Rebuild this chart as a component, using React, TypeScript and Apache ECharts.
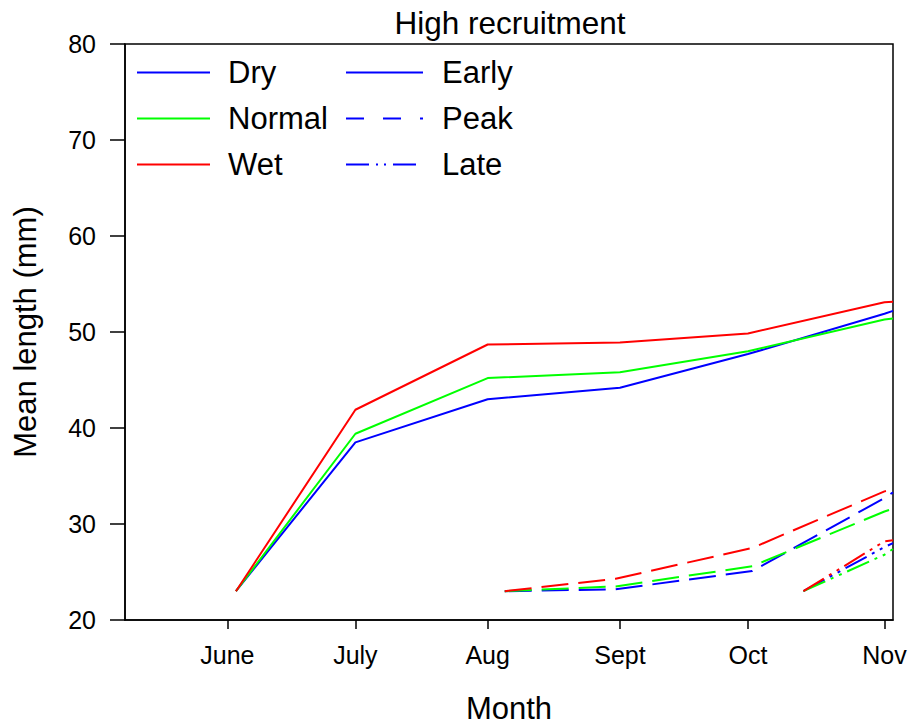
import React, { useEffect, useRef } from "react";
import * as echarts from "echarts";

// Day-of-year positions of the month ticks and their labels
const monthTicks = [152, 182, 213, 244, 274, 306];
const monthLabels = ["June", "July", "Aug", "Sept", "Oct", "Nov"];

// Early recruitment cohort (solid lines)
const earlyDays = [154, 182, 213, 244, 274, 306, 308];
const earlyDry = [23, 38.5, 43.0, 44.2, 47.7, 51.9, 52.2];
const earlyNormal = [23, 39.4, 45.2, 45.8, 48.0, 51.3, 51.4];
const earlyWet = [23, 41.9, 48.7, 48.9, 49.85, 53.1, 53.15];

// Peak recruitment cohort (dashed lines)
const peakDays = [217, 243, 275, 306, 308];
const peakDry = [23, 23.2, 25.1, 32.7, 33.3];
const peakNormal = [23, 23.5, 25.6, 31.3, 31.6];
const peakWet = [23, 24.3, 27.5, 33.4, 33.6];

// Late recruitment cohort (dash-dot-dot lines)
const lateDays = [287, 306, 308];
const lateDry = [23, 27.6, 28.0];
const lateNormal = [23, 26.8, 27.4];
const lateWet = [23, 28.2, 28.3];

const BLUE = "#0000ff";
const GREEN = "#00ff00";
const RED = "#ff0000";
const FONT = "'Liberation Sans', Arial, sans-serif";

const PEAK_DASH = [27, 10];
const LATE_DASH = [24, 6, 3, 6, 3, 6];

const pairs = (xs: number[], ys: number[]) => xs.map((x, i) => [x, ys[i]]);

export default function App() {
  const ref = useRef<HTMLDivElement>(null);

  useEffect(() => {
    if (!ref.current) return;
    const chart = echarts.init(ref.current, undefined, { renderer: "svg" });

    const line = (name: string, color: string, data: number[][], type: any) => ({
      name,
      type: "line",
      data,
      symbol: "none",
      clip: true,
      lineStyle: { color, width: 2, type },
      itemStyle: { color },
      z: 3,
    });

    const series: any[] = [
      // legend-only entries
      line("Dry", BLUE, [], "solid"),
      line("Normal", GREEN, [], "solid"),
      line("Wet", RED, [], "solid"),
      line("Early", BLUE, [], "solid"),
      line("Peak", BLUE, [], PEAK_DASH),
      line("Late", BLUE, [], LATE_DASH),
      // data lines
      line("Dry Early", BLUE, pairs(earlyDays, earlyDry), "solid"),
      line("Normal Early", GREEN, pairs(earlyDays, earlyNormal), "solid"),
      line("Wet Early", RED, pairs(earlyDays, earlyWet), "solid"),
      line("Dry Peak", BLUE, pairs(peakDays, peakDry), PEAK_DASH),
      line("Normal Peak", GREEN, pairs(peakDays, peakNormal), PEAK_DASH),
      line("Wet Peak", RED, pairs(peakDays, peakWet), PEAK_DASH),
      line("Dry Late", BLUE, pairs(lateDays, lateDry), LATE_DASH),
      line("Normal Late", GREEN, pairs(lateDays, lateNormal), LATE_DASH),
      line("Wet Late", RED, pairs(lateDays, lateWet), LATE_DASH),
    ];

    const legendText = {
      fontFamily: FONT,
      fontSize: 31,
      color: "#000",
      lineHeight: 30,
      padding: [0, 0, 0, 13],
    };

    chart.setOption({
      animation: false,
      backgroundColor: "#fff",
      title: {
        text: "High recruitment",
        left: 510,
        textAlign: "center",
        top: 7,
        padding: 0,
        textStyle: { fontFamily: FONT, fontSize: 31.5, fontWeight: "normal", color: "#000" },
      },
      legend: [
        {
          data: ["Dry", "Normal", "Wet"],
          orient: "vertical",
          left: 136,
          top: 57,
          padding: 0,
          itemWidth: 73,
          itemHeight: 30,
          itemGap: 15,
          selectedMode: false,
          itemStyle: { opacity: 0 },
          textStyle: legendText,
        },
        {
          data: [
            "Early",
            { name: "Peak", lineStyle: { type: [18, 19] } },
            { name: "Late", lineStyle: { type: [23, 7, 2, 6, 2, 7] } },
          ],
          orient: "vertical",
          left: 345,
          top: 57,
          padding: 0,
          itemWidth: 77,
          itemHeight: 30,
          itemGap: 15,
          selectedMode: false,
          itemStyle: { opacity: 0 },
          textStyle: { ...legendText, padding: [0, 0, 0, 14] },
        },
      ],
      grid: {
        left: 125,
        top: 44,
        width: 768,
        height: 576,
        outerBoundsMode: "none",
        containLabel: false,
        show: true,
        borderColor: "#000",
        borderWidth: 1.5,
        backgroundColor: "transparent",
      },
      xAxis: {
        type: "value",
        min: 128,
        max: 308,
        name: "Month",
        nameLocation: "middle",
        nameGap: 73,
        nameTextStyle: { fontFamily: FONT, fontSize: 31, color: "#000" },
        splitLine: { show: false },
        axisLine: { show: true, lineStyle: { color: "#000", width: 1.5 } },
        axisTick: {
          show: true,
          length: 9,
          customValues: monthTicks,
          lineStyle: { color: "#000", width: 1.5 },
        },
        axisLabel: {
          customValues: monthTicks,
          margin: 22,
          fontFamily: FONT,
          fontSize: 25,
          color: "#000",
          formatter: (v: number) => {
            const i = monthTicks.indexOf(v);
            return i >= 0 ? monthLabels[i] : "";
          },
        },
      },
      yAxis: {
        type: "value",
        min: 20,
        max: 80,
        interval: 10,
        name: "Mean length (mm)",
        nameLocation: "middle",
        nameGap: 84,
        nameTextStyle: { fontFamily: FONT, fontSize: 31, color: "#000" },
        splitLine: { show: false },
        axisLine: { show: true, lineStyle: { color: "#000", width: 1.5 } },
        axisTick: { show: true, length: 15, lineStyle: { color: "#000", width: 1.5 } },
        axisLabel: { margin: 29, fontFamily: FONT, fontSize: 25, color: "#000" },
      },
      series,
    });

    return () => chart.dispose();
  }, []);

  return <div ref={ref} style={{ width: 910, height: 727, position: "absolute", left: 0, top: 0 }} />;
}
